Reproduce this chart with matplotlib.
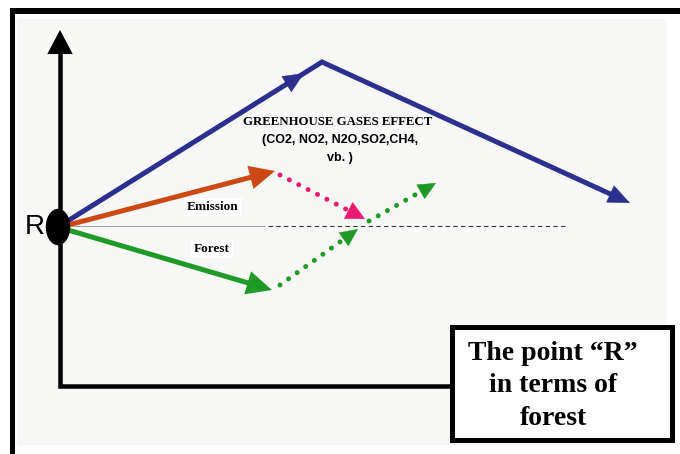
# Concept sketch: the point "R" in terms of forest vs. greenhouse gas emission
import numpy as np
import matplotlib
matplotlib.use("Agg")
import matplotlib.pyplot as plt
from matplotlib.patches import FancyArrowPatch, Rectangle, Ellipse

# --- values (pixel units, y grows downward) ---
origin_R = (58, 227)

ghg_x = [66, 322, 630]          # blue: rise to a peak, then fall
ghg_y = [222, 62, 203]
ghg_mid_frac = 0.93             # where the first blue arrowhead sits

emission_x = [68, 275]
emission_y = [225, 171]
emission_drop_x = [280, 365]
emission_drop_y = [175, 219]

forest_x = [68, 272]
forest_y = [230, 290]
forest_rise_x = [280, 358]
forest_rise_y = [285, 229]
recovery_x = [369, 436]
recovery_y = [221, 183]

baseline_y = 226
baseline_solid = [70, 265]
baseline_dashed = [268, 567]

axis_x = 60
axis_bottom = 386
axis_top = 30
box_x = [452, 672]
box_y = [327, 440]

ghg_lines = ["GREENHOUSE GASES EFFECT", "(CO2, NO2, N2O,SO2,CH4,", "vb. )"]
box_lines = ["The point \u201cR\u201d", "in terms of", "forest"]

BLUE = "#2d2f8e"
ORANGE = "#cc4814"
GREEN = "#1f9a27"
PINK = "#ec1a72"

PX = 72 / 100  # points per pixel at dpi 100

fig = plt.figure(figsize=(6.8, 4.54), dpi=100)
ax = fig.add_axes([0, 0, 1, 1])
ax.set_xlim(0, 680)
ax.set_ylim(454, 0)
ax.axis("off")


def arrow(p0, p1, color, lw, hl, hw):
    # solid shaft + filled head; hl/hw are head length / half width in px
    ms = 10
    style = f"-|>,head_length={hl * PX / ms},head_width={hw * PX / ms}"
    a = FancyArrowPatch(p0, p1, arrowstyle=style, mutation_scale=ms,
                        color=color, lw=lw * PX, shrinkA=0, shrinkB=0,
                        joinstyle="miter", capstyle="butt", zorder=4)
    ax.add_patch(a)


def head_only(p0, p1, color, hl, hw):
    p0 = np.array(p0, float)
    p1 = np.array(p1, float)
    d = (p1 - p0) / np.linalg.norm(p1 - p0)
    arrow(tuple(p1 - d * 2), tuple(p1), color, 0.5, hl, hw)


def short_end(xs, ys, cut):
    # stop a path 'cut' px before its last point so the head covers the end
    p0 = np.array([xs[-2], ys[-2]], float)
    p1 = np.array([xs[-1], ys[-1]], float)
    d = (p1 - p0) / np.linalg.norm(p1 - p0)
    q = p1 - d * cut
    return list(xs[:-1]) + [q[0]], list(ys[:-1]) + [q[1]]


def dotted(xs, ys, color, cut):
    xs, ys = short_end(xs, ys, cut)
    ax.plot(xs, ys, color=color, lw=5 * PX, ls=(0, (0.01, 2.1)),
            dash_capstyle="round", zorder=3)


# frame and light panel
ax.add_patch(Rectangle((17, 19), 650, 426, color="#f7f8f6", lw=0, zorder=0))
ax.plot([10, 680], [11, 11], color="black", lw=6 * PX, solid_capstyle="butt", zorder=1)
ax.plot([12, 12], [9, 454], color="black", lw=5 * PX, solid_capstyle="butt", zorder=1)

# axes of the sketch
ax.plot([box_x[0], axis_x, axis_x], [axis_bottom, axis_bottom, axis_top + 14],
        color="black", lw=4.5 * PX, solid_joinstyle="miter", zorder=2)
arrow((axis_x, axis_top + 20), (axis_x, axis_top), "black", 4.5, 17, 9)

# baseline through R
ax.plot(baseline_solid, [baseline_y] * 2, color="#999999", lw=0.9 * PX, zorder=1)
ax.plot(baseline_dashed, [baseline_y] * 2, color="#333333", lw=1.1 * PX,
        ls=(0, (4, 3)), zorder=1)

# greenhouse gases (blue)
bx, by = short_end(ghg_x, ghg_y, 12)
ax.plot(bx, by, color=BLUE, lw=5 * PX, solid_joinstyle="miter",
        solid_capstyle="butt", zorder=3)
mid = (ghg_x[0] + ghg_mid_frac * (ghg_x[1] - ghg_x[0]),
       ghg_y[0] + ghg_mid_frac * (ghg_y[1] - ghg_y[0]))
head_only((ghg_x[0], ghg_y[0]), mid, BLUE, 20, 9)
head_only((ghg_x[1], ghg_y[1]), (ghg_x[2], ghg_y[2]), BLUE, 21, 9)

# emission (orange) and its drop (pink dots)
arrow((emission_x[0], emission_y[0]), (emission_x[1], emission_y[1]), ORANGE, 5, 17, 8)
dotted(emission_drop_x, emission_drop_y, PINK, 14)
head_only((emission_drop_x[0], emission_drop_y[0]), (emission_drop_x[1], emission_drop_y[1]), PINK, 18, 9)

# forest (green) and its rise
arrow((forest_x[0], forest_y[0]), (forest_x[1], forest_y[1]), GREEN, 5, 17, 8)
dotted(forest_rise_x, forest_rise_y, GREEN, 12)
head_only((forest_rise_x[0], forest_rise_y[0]), (forest_rise_x[1], forest_rise_y[1]), GREEN, 17, 8)
dotted(recovery_x, recovery_y, GREEN, 12)
head_only((recovery_x[0], recovery_y[0]), (recovery_x[1], recovery_y[1]), GREEN, 17, 8)

# point R
ax.add_patch(Ellipse(origin_R, 23, 35, color="black", zorder=5))
ax.text(35, 227, "R", fontsize=20, family="Liberation Sans", ha="center",
        va="center", zorder=5)

# labels
serif = "Liberation Serif"
ax.text(338, 122, ghg_lines[0], fontsize=9.3, family=serif, weight="bold",
        ha="center", va="center", zorder=5)
ax.text(340, 140, ghg_lines[1], fontsize=9, family="Liberation Sans", weight="bold",
        ha="center", va="center", zorder=5)
ax.text(340, 158, ghg_lines[2], fontsize=9, family="Liberation Sans", weight="bold",
        ha="center", va="center", zorder=5)
ax.text(213, 207, "Emission", fontsize=9.5, family=serif, weight="bold",
        ha="center", va="center", zorder=5,
        bbox=dict(fc="white", ec="none", pad=2))
ax.text(212, 249, "Forest", fontsize=9.5, family=serif, weight="bold",
        ha="center", va="center", zorder=5,
        bbox=dict(fc="white", ec="none", pad=2))

# box in the corner
ax.add_patch(Rectangle((box_x[0], box_y[0]), box_x[1] - box_x[0], box_y[1] - box_y[0],
                       fc="white", ec="black", lw=5 * PX, joinstyle="miter", zorder=4))
for i, line in enumerate(box_lines):
    ax.text(553, 360 + 32.5 * i, line, fontsize=20, family=serif, weight="bold",
            ha="center", va="baseline", zorder=5)

fig.savefig("out.png", dpi=100)
